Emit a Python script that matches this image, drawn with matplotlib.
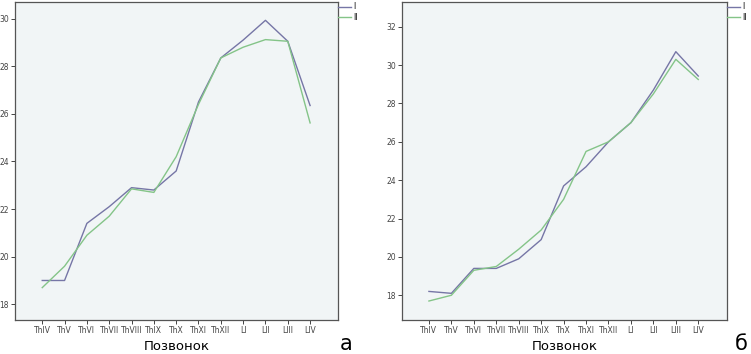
import matplotlib
matplotlib.use("Agg")
import matplotlib.pyplot as plt

categories = ["ThIV", "ThV", "ThVI", "ThVII", "ThVIII", "ThIX", "ThX",
              "ThXI", "ThXII", "LI", "LII", "LIII", "LIV"]

a_I = [19.0, 19.0, 21.4, 22.1, 22.9, 22.8, 23.6, 26.5, 28.35, 29.1, 29.93, 29.05, 26.35]
a_II = [18.7, 19.6, 20.9, 21.7, 22.85, 22.7, 24.2, 26.4, 28.35, 28.8, 29.12, 29.05, 25.62]

b_I = [18.2, 18.1, 19.4, 19.4, 19.9, 20.9, 23.7, 24.7, 26.0, 27.0, 28.7, 30.7, 29.43]
b_II = [17.7, 18.0, 19.3, 19.5, 20.4, 21.4, 23.0, 25.5, 26.0, 27.0, 28.5, 30.3, 29.25]

series_labels = ["I", "II"]
a_yticks = [18, 20, 22, 24, 26, 28, 30]
b_yticks = [18, 20, 22, 24, 26, 28, 30, 32]
xlabel = "Позвонок"
panel_labels = ["а", "б"]

c_I = "#7676a6"
c_II = "#84c488"
bg = "#f1f5f6"

plt.rcParams['font.family'] = ['DejaVu Sans']
fig = plt.figure(figsize=(7.51, 3.54), dpi=100)

rects = [(15/751, 1-320/354, 323/751, 318/354),
         (402/751, 1-320/354, 325/751, 318/354)]
ylims = [(17.34, 30.7), (16.71, 33.29)]
xlims = [(-1.22, 13.25), (-1.2, 13.28)]
datas = [(a_I, a_II, a_yticks), (b_I, b_II, b_yticks)]
panel_x = [346/751, 741/751]

for i, (rect, (sI, sII, yt)) in enumerate(zip(rects, datas)):
    ax = fig.add_axes(rect)
    ax.set_facecolor(bg)
    x = list(range(len(categories)))
    l1, = ax.plot(x, sI, color=c_I, lw=1.0)
    l2, = ax.plot(x, sII, color=c_II, lw=1.0)
    ax.set_xlim(*xlims[i])
    ax.set_ylim(*ylims[i])
    ax.set_xticks(x)
    ax.set_xticklabels(categories, fontsize=5.5, color="#333333")
    ax.set_yticks(yt)
    ax.set_yticklabels([str(v) for v in yt], fontsize=5.5, color="#333333")
    ax.tick_params(length=3, width=0.7, pad=1.5, colors="#444444")
    for s in ax.spines.values():
        s.set_color("#555555")
        s.set_linewidth(0.9)
    fig.text(rect[0] + rect[2] / 2, 1 - 346/354, xlabel, fontsize=9.5,
             ha="center", va="center")
    ax.legend([l1, l2], series_labels, loc="upper left", bbox_to_anchor=(1.0, 1.0),
              frameon=False, fontsize=5.5, handlelength=1.6, handletextpad=0.3,
              labelspacing=0.2, borderaxespad=0.0, borderpad=0.05)
    fig.text(panel_x[i], 1 - 350/354, panel_labels[i], fontsize=15,
             ha="center", va="baseline")

fig.savefig("out.png", dpi=100)
